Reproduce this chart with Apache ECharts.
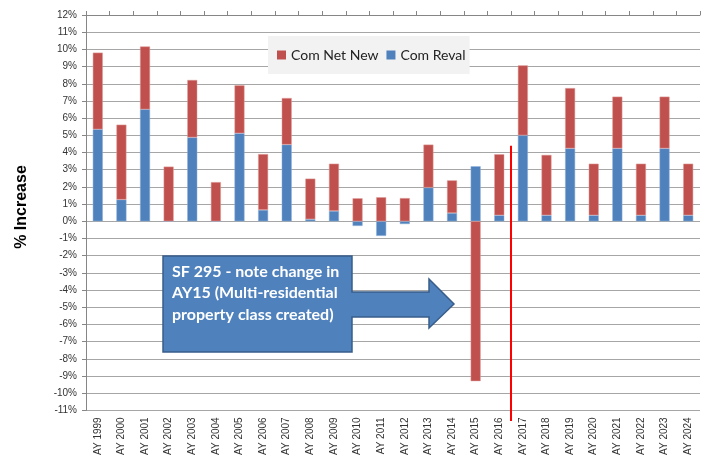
<!DOCTYPE html>
<html>
<head>
<meta charset="utf-8">
<script src="https://cdn.jsdelivr.net/npm/echarts@6/dist/echarts.min.js"></script>
<style>
  html, body { margin: 0; padding: 0; background: #fff; }
  #chart { width: 715px; height: 458px; }
</style>
</head>
<body>
<div id="chart"></div>
<script>
var years = ['AY 1999', 'AY 2000', 'AY 2001', 'AY 2002', 'AY 2003', 'AY 2004', 'AY 2005',
  'AY 2006', 'AY 2007', 'AY 2008', 'AY 2009', 'AY 2010', 'AY 2011', 'AY 2012', 'AY 2013',
  'AY 2014', 'AY 2015', 'AY 2016', 'AY 2017', 'AY 2018', 'AY 2019', 'AY 2020', 'AY 2021',
  'AY 2022', 'AY 2023', 'AY 2024'];

// % values
var comReval = [5.35, 1.26, 6.51, 0, 4.88, 0, 5.12, 0.66, 4.46, 0.12, 0.6, -0.27, -0.85,
  -0.16, 1.96, 0.48, 3.2, 0.35, 5.0, 0.35, 4.24, 0.35, 4.24, 0.35, 4.24, 0.35];
var comNetNew = [4.46, 4.36, 3.66, 3.18, 3.34, 2.28, 2.79, 3.25, 2.71, 2.36, 2.75, 1.34, 1.4,
  1.35, 2.5, 1.9, -9.3, 3.55, 4.07, 3.51, 3.51, 3.0, 3.01, 3.0, 3.01, 3.0];

var noteLines = ['SF 295 - note change in', 'AY15 (Multi-residential', 'property class created)'];

var chart = echarts.init(document.getElementById('chart'));

var labelFont = { fontFamily: 'Liberation Sans', fontSize: 10, color: '#333' };

chart.setOption({
  animation: false,
  grid: { left: 86, right: 15, top: 15, bottom: 47 },
  legend: {
    data: ['Com Net New', 'Com Reval'],
    left: 268, top: 36,
    padding: [12, 4, 12, 9],
    backgroundColor: '#F2F2F2',
    itemWidth: 9, itemHeight: 9, itemGap: 8,
    icon: 'rect',
    itemStyle: { borderWidth: 0 },
    textStyle: { fontFamily: 'Lato', fontSize: 14, color: '#222' }
  },
  xAxis: [{
    type: 'category',
    data: years,
    position: 'bottom',
    axisLine: { show: false },
    axisTick: { show: false },
    axisLabel: Object.assign({ rotate: 90, margin: 7, interval: 0 }, labelFont)
  }, {
    type: 'category',
    data: years,
    axisLine: { onZero: true, lineStyle: { color: '#868686', width: 1 } },
    axisTick: { show: true, length: 4, interval: 0, lineStyle: { color: '#868686' } },
    axisLabel: { show: false }
  }],
  yAxis: {
    type: 'value',
    min: -11, max: 12, interval: 1,
    axisLine: { show: true, lineStyle: { color: '#868686' } },
    axisTick: { show: true, length: 4, lineStyle: { color: '#868686' } },
    axisLabel: Object.assign({ margin: 9, formatter: function (v) { return v + '%'; } }, labelFont),
    splitLine: { lineStyle: { color: '#A6A6A6', width: 1 } }
  },
  series: [{
    name: 'Com Reval',
    type: 'bar',
    stack: 'total',
    barWidth: 10,
    itemStyle: { color: '#4F81BD', borderColor: '#8FB0D8', borderWidth: 0.5 },
    data: comReval
  }, {
    name: 'Com Net New',
    type: 'bar',
    stack: 'total',
    barWidth: 10,
    itemStyle: { color: '#C0504D', borderColor: '#E0A09E', borderWidth: 0.5 },
    data: comNetNew
  }]
});

// vertical red divider between AY 2016 and AY 2017, plus callout and axis title
var xa = chart.convertToPixel({ xAxisIndex: 1 }, 'AY 2016');
var xb = chart.convertToPixel({ xAxisIndex: 1 }, 'AY 2017');
var yTop = chart.convertToPixel({ yAxisIndex: 0 }, 4.4);
var xDiv = Math.round((xa + xb) / 2);

chart.setOption({
  graphic: [{
    type: 'line',
    shape: { x1: xDiv, y1: yTop, x2: xDiv, y2: 421 },
    style: { stroke: '#FF0000', lineWidth: 2 }
  }, {
    type: 'polygon',
    shape: {
      points: [[163, 256], [352, 256], [352, 292], [429, 292], [429, 279], [454, 304],
        [429, 328], [429, 317], [352, 317], [352, 352], [163, 352]]
    },
    style: { fill: '#4F81BD', stroke: '#385D8A', lineWidth: 1.5 }
  }, {
    type: 'text',
    left: 172, top: 261,
    style: {
      text: noteLines.join('\n'),
      fill: '#fff',
      font: 'bold 16px Lato',
      lineHeight: 21.5
    }
  }, {
    type: 'text',
    x: 22, y: 207,
    rotation: Math.PI / 2,
    style: {
      text: '% Increase',
      fill: '#000',
      font: 'bold 16px "Liberation Sans"',
      align: 'center',
      verticalAlign: 'middle'
    }
  }]
});
</script>
</body>
</html>
